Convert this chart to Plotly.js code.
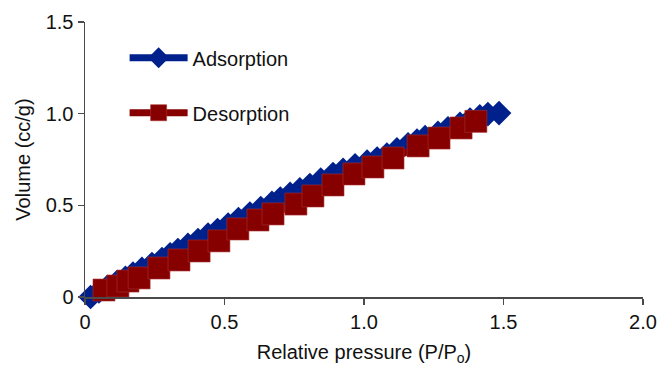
<!DOCTYPE html>
<html>
<head>
<meta charset="utf-8">
<script src="https://cdn.plot.ly/plotly-3.0.1.min.js"></script>
<style>html,body{margin:0;padding:0;background:#fff;}#chart{width:661px;height:366px;}</style>
</head>
<body>
<div id="chart"></div>
<script>
// Adsorption branch
var adsorptionX = [0.02, 0.05, 0.08, 0.115, 0.145, 0.172, 0.204, 0.24, 0.276, 0.305, 0.333, 0.369, 0.405, 0.441, 0.475, 0.513, 0.55, 0.591, 0.63, 0.67, 0.70, 0.735, 0.77, 0.806, 0.845, 0.889, 0.925, 0.968, 1.011, 1.047, 1.082, 1.118, 1.158, 1.19, 1.219, 1.265, 1.301, 1.344, 1.38, 1.415, 1.444, 1.484];
var adsorptionY = [0.0, 0.03, 0.055, 0.082, 0.105, 0.127, 0.153, 0.18, 0.207, 0.233, 0.256, 0.284, 0.311, 0.34, 0.365, 0.395, 0.425, 0.455, 0.485, 0.513, 0.537, 0.562, 0.587, 0.611, 0.64, 0.671, 0.693, 0.718, 0.738, 0.755, 0.777, 0.805, 0.833, 0.853, 0.872, 0.895, 0.92, 0.944, 0.968, 0.985, 0.998, 1.003];
// Desorption branch
var desorptionX = [0.068, 0.118, 0.154, 0.194, 0.265, 0.337, 0.409, 0.48, 0.548, 0.62, 0.674, 0.756, 0.817, 0.889, 0.964, 1.032, 1.104, 1.194, 1.269, 1.348, 1.401];
var desorptionY = [0.038, 0.06, 0.087, 0.104, 0.158, 0.202, 0.251, 0.306, 0.371, 0.42, 0.453, 0.507, 0.551, 0.611, 0.671, 0.709, 0.758, 0.824, 0.867, 0.922, 0.958];
// Tick labels
var xTickVals = [0, 0.5, 1.0, 1.5, 2.0];
var xTickText = ['0', '0.5', '1.0', '1.5', '2.0'];
var yTickVals = [0, 0.5, 1.0, 1.5];
var yTickText = ['0', '0.5', '1.0', '1.5'];

var FONT = 'Liberation Sans, Arial, Helvetica, sans-serif';
var BLUE = '#00208c';
var RED = '#860000';

var traces = [
  {
    x: adsorptionX, y: adsorptionY, name: 'Adsorption', type: 'scatter', mode: 'lines+markers',
    legendgroup: 'a', cliponaxis: false,
    line: {color: BLUE, width: 7},
    marker: {symbol: 'diamond', size: 19, color: BLUE, line: {width: 0}}
  },
  {
    x: desorptionX, y: desorptionY, name: 'Desorption', type: 'scatter', mode: 'lines+markers',
    legendgroup: 'd', cliponaxis: false,
    line: {color: RED, width: 7},
    marker: {symbol: 'square', size: 22, color: RED, line: {width: 0.6, color: '#a83030'}}
  }
];

var axisCommon = {
  showgrid: false, zeroline: false, showline: true, linecolor: '#4a4a4a', linewidth: 1.5,
  ticks: 'outside', ticklen: 6, tickwidth: 1.5, tickcolor: '#4a4a4a',
  tickfont: {family: FONT, size: 20, color: '#111'}
};

var layout = {
  width: 661, height: 366,
  margin: {l: 85, r: 18, t: 22, b: 69},
  paper_bgcolor: '#fff', plot_bgcolor: '#fff',
  font: {family: FONT, size: 20, color: '#111'},
  showlegend: true,
  legend: {
    x: 0.071, y: 0.941, xanchor: 'left', yanchor: 'top',
    bgcolor: 'rgba(0,0,0,0)', borderwidth: 0,
    font: {family: FONT, size: 20, color: '#111'},
    tracegroupgap: 26, traceorder: 'grouped', itemwidth: 58
  },
  xaxis: Object.assign({}, axisCommon, {
    range: [0, 2], tickmode: 'array', tickvals: xTickVals, ticktext: xTickText,
    title: {text: 'Relative pressure (P/P<sub>o</sub>)', font: {family: FONT, size: 20, color: '#111'}, standoff: 15}
  }),
  yaxis: Object.assign({}, axisCommon, {
    range: [0, 1.5], tickmode: 'array', tickvals: yTickVals, ticktext: yTickText,
    title: {text: 'Volume (cc/g)', font: {family: FONT, size: 20, color: '#111'}, standoff: 9}
  })
};

Plotly.newPlot('chart', traces, layout, {displayModeBar: false, staticPlot: true});
</script>
</body>
</html>
